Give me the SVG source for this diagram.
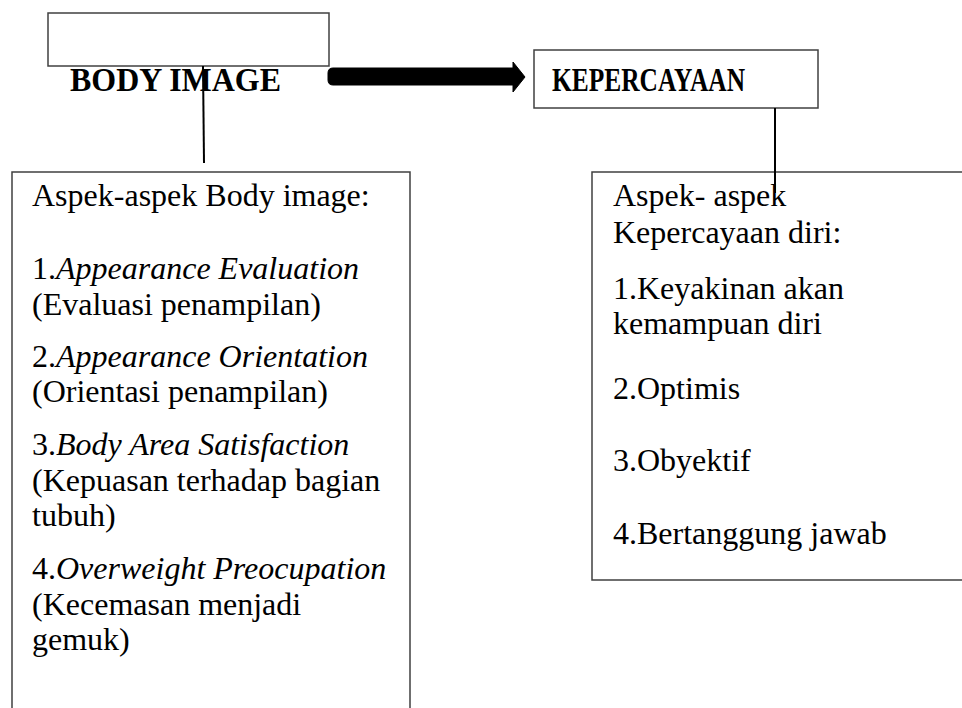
<svg xmlns="http://www.w3.org/2000/svg" width="962" height="708" viewBox="0 0 962 708">
<style>
.box{fill:#fff;stroke:#404040;stroke-width:1.5}
.open{fill:none;stroke:#404040;stroke-width:1.5}
.ttl{font-family:"Liberation Serif","Times New Roman",serif;font-weight:bold;font-size:34px;fill:#000}
.txt{font-family:"Liberation Serif","Times New Roman",serif;font-size:32px;fill:#000}
.it{font-style:italic}
.conn{stroke:#000;stroke-width:2;fill:none}
</style>
<rect width="962" height="708" fill="#fff"/>
<g id="body-image">
<rect class="box" x="48" y="13" width="281" height="53"/>
<text class="ttl" x="70" y="91" textLength="211" lengthAdjust="spacingAndGlyphs">BODY IMAGE</text>
</g>
<g id="kepercayaan">
<rect class="box" x="534" y="50" width="284" height="58"/>
<text class="ttl" x="552" y="91" textLength="193" lengthAdjust="spacingAndGlyphs">KEPERCAYAAN</text>
</g>
<g id="aspek-body">
<path class="open" d="M12,708 V172 H410 V708"/>
<text class="txt" x="32" y="206">Aspek-aspek Body image:</text>
<text class="txt" x="32" y="279">1.<tspan class="it">Appearance Evaluation</tspan></text>
<text class="txt" x="32" y="315">(Evaluasi penampilan)</text>
<text class="txt" x="32" y="367">2.<tspan class="it">Appearance Orientation</tspan></text>
<text class="txt" x="32" y="402">(Orientasi penampilan)</text>
<text class="txt" x="32" y="455">3.<tspan class="it">Body Area Satisfaction</tspan></text>
<text class="txt" x="32" y="491">(Kepuasan terhadap bagian</text>
<text class="txt" x="32" y="526">tubuh)</text>
<text class="txt" x="32" y="579">4.<tspan class="it">Overweight Preocupation</tspan></text>
<text class="txt" x="32" y="615">(Kecemasan menjadi</text>
<text class="txt" x="32" y="650">gemuk)</text>
</g>
<g id="aspek-kepercayaan">
<path class="open" d="M962,172 H592 V580 H962"/>
<text class="txt" x="613" y="206">Aspek- aspek</text>
<text class="txt" x="613" y="243">Kepercayaan diri:</text>
<text class="txt" x="613" y="299">1.Keyakinan akan</text>
<text class="txt" x="613" y="334">kemampuan diri</text>
<text class="txt" x="613" y="399">2.Optimis</text>
<text class="txt" x="613" y="471">3.Obyektif</text>
<text class="txt" x="613" y="544">4.Bertanggung jawab</text>
</g>
<g id="connectors">
<line class="conn" x1="203" y1="66" x2="204" y2="163"/>
<line class="conn" x1="775" y1="108" x2="775" y2="193"/>
<path d="M333,68 H513 V62 L525,77 L513,92 V85 H333 Q328,85 328,80 V73 Q328,68 333,68 Z" fill="#000" stroke="#000" stroke-width="1" stroke-linejoin="round"/>
</g>
</svg>
